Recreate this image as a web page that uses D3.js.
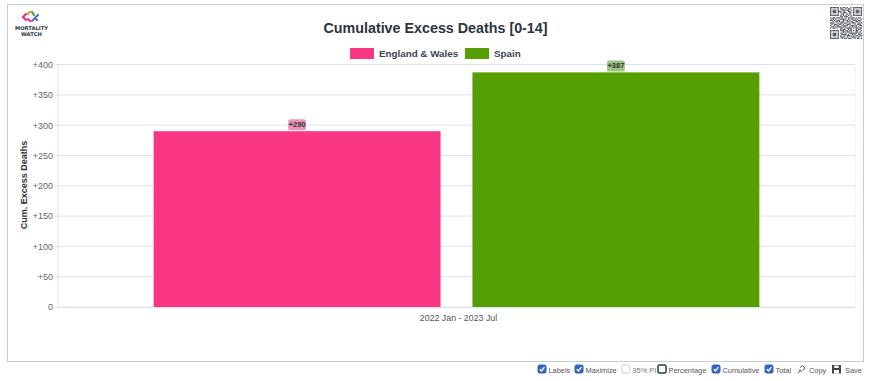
<!DOCTYPE html>
<html>
<head>
<meta charset="utf-8">
<script src="https://cdn.jsdelivr.net/npm/d3@7"></script>
<style>
  html, body { margin: 0; padding: 0; background: #fff; }
  svg { display: block; font-family: "Liberation Sans", Arial, sans-serif; }
</style>
</head>
<body>
<svg id="chart"></svg>
<script>
const categories = ["2022 Jan - 2023 Jul"];
const seriesNames = ["England & Wales", "Spain"];
const seriesValues = [290, 387];
const seriesColors = ["#fb3784", "#559f03"];
const labelColors = ["#ec94bb", "#9cc483"];
const yTicks = [0, 50, 100, 150, 200, 250, 300, 350, 400];
const controlLabels = ["Labels", "Maximize", "95% PI", "Percentage", "Cumulative", "Total"];
const controlChecked = [true, true, false, false, true, true];

const qrRows = [
  "1111111010110100101111111",
  "1000001011001011001000001",
  "1011101001110110101011101",
  "1011101110010011001011101",
  "1011101010111001101011101",
  "1000001001100101001000001",
  "1111111010101010101111111",
  "0000000011011100100000000",
  "1011011101001011011010110",
  "0110100011110010110101001",
  "1101011100101101001110110",
  "0010110101100110110011010",
  "1110001011011001011100101",
  "0101110110100111000101110",
  "1001011001011100111010011",
  "0110101110110001010110100",
  "1011010011001111101011011",
  "0000000010110010100010110",
  "1111111011101101101011001",
  "1000001000110110100011010",
  "1011101011001001111110101",
  "1011101001111010010100110",
  "1011101010010111101011011",
  "1000001011100100011100100",
  "1111111001011011100101101"
];

const width = 870;
const height = 381;
const svg = d3.select("#chart").attr("width", width).attr("height", height);

// Outer card
svg.append("rect")
  .attr("x", 7.5).attr("y", 4.5)
  .attr("width", 856).attr("height", 357)
  .attr("fill", "#fff")
  .attr("stroke", "#c3d0d9");

const margin = { top: 64.5, right: 15, bottom: 74, left: 58 };
const chartWidth = width - margin.left - margin.right;
const chartHeight = height - margin.top - margin.bottom;

const x0 = d3.scaleBand()
  .domain(categories)
  .range([0, chartWidth])
  .paddingInner(0.2)
  .paddingOuter(0.1);

const x1 = d3.scaleBand()
  .domain(seriesNames)
  .range([0, x0.bandwidth()])
  .paddingInner(0.1)
  .paddingOuter(0.05);

const y = d3.scaleLinear().domain([0, 400]).range([chartHeight, 0]);

const chart = svg.append("g")
  .attr("transform", `translate(${margin.left},${margin.top})`);

const fmt = d => (d > 0 ? "+" + d : "" + d);

// Grid
chart.append("g")
  .selectAll("line")
  .data(yTicks)
  .enter()
  .append("line")
  .attr("x1", 0)
  .attr("x2", chartWidth)
  .attr("y1", d => y(d))
  .attr("y2", d => y(d))
  .attr("stroke", "#dde3ee");

chart.append("line")
  .attr("x1", 0).attr("x2", 0)
  .attr("y1", 0).attr("y2", chartHeight)
  .attr("stroke", "#dde3ee");

chart.append("line")
  .attr("x1", chartWidth).attr("x2", chartWidth)
  .attr("y1", 0).attr("y2", chartHeight)
  .attr("stroke", "#eceff5");

// Y axis
const yAxis = chart.append("g")
  .call(d3.axisLeft(y).tickValues(yTicks).tickFormat(fmt).tickSize(3).tickPadding(2));
yAxis.select(".domain").remove();
yAxis.selectAll("line").attr("stroke", "#dde3ee");
yAxis.selectAll("text")
  .style("fill", "#666")
  .style("font-size", "9px");

// X axis
const xAxis = chart.append("g")
  .attr("transform", `translate(0,${chartHeight})`)
  .call(d3.axisBottom(x0).tickSize(0).tickPadding(8));
xAxis.select(".domain").attr("stroke", "#dde3ee");
xAxis.selectAll("text")
  .attr("dx", 2)
  .style("fill", "#555")
  .style("font-size", "8.8px");

// Bars
const group = chart.append("g")
  .attr("transform", `translate(${x0(categories[0])},0)`);

group.selectAll(".bar")
  .data(seriesValues)
  .enter()
  .append("rect")
  .attr("class", "bar")
  .attr("x", (d, i) => x1(seriesNames[i]))
  .attr("y", d => y(d))
  .attr("width", x1.bandwidth())
  .attr("height", d => chartHeight - y(d))
  .attr("fill", (d, i) => seriesColors[i]);

// Value labels
const tags = group.selectAll(".tag")
  .data(seriesValues)
  .enter()
  .append("g")
  .attr("class", "tag")
  .attr("transform", (d, i) =>
    `translate(${x1(seriesNames[i]) + x1.bandwidth() / 2},${y(d) - 6.5})`);

tags.append("rect")
  .attr("x", -9).attr("y", -5.5)
  .attr("width", 18).attr("height", 11)
  .attr("rx", 2.5)
  .attr("fill", (d, i) => labelColors[i]);

tags.append("text")
  .attr("text-anchor", "middle")
  .attr("dy", "0.34em")
  .style("font-size", "7.5px")
  .style("font-weight", "bold")
  .style("fill", "#333")
  .text(fmt);

// Title
svg.append("text")
  .attr("x", 435.5)
  .attr("y", 33)
  .attr("text-anchor", "middle")
  .style("font-size", "14.3px")
  .style("font-weight", "bold")
  .style("fill", "#2b3440")
  .text("Cumulative Excess Deaths [0-14]");

// Legend
const legendX = [350, 465];
const legend = svg.append("g")
  .selectAll("g")
  .data(seriesNames)
  .enter()
  .append("g")
  .attr("transform", (d, i) => `translate(${legendX[i]},48)`);

legend.append("rect")
  .attr("width", 24).attr("height", 11)
  .attr("fill", (d, i) => seriesColors[i]);

legend.append("text")
  .attr("x", 29)
  .attr("y", 9)
  .style("font-size", "9.8px")
  .style("font-weight", "bold")
  .style("fill", "#3a4452")
  .text(d => d);

// Y axis label
svg.append("text")
  .attr("transform", "rotate(-90)")
  .attr("x", -185)
  .attr("y", 27)
  .attr("text-anchor", "middle")
  .style("font-size", "9px")
  .style("font-weight", "bold")
  .style("fill", "#333")
  .text("Cum. Excess Deaths");

// Logo
const logo = svg.append("g").attr("transform", "translate(31,17)");
const logoStrokes = [
  ["#e8308a", "M-5 -3L-8 0L-5 3"],
  ["#f39a1e", "M-3 -3L-1 -5"],
  ["#3fae49", "M1 -5L3 -2"],
  ["#e8308a", "M-3 2L-1 4"],
  ["#5c6bd6", "M1 4L4 1L7 -2M4 1L6 3"]
];
logo.selectAll("path")
  .data(logoStrokes)
  .enter()
  .append("path")
  .attr("d", d => d[1])
  .attr("fill", "none")
  .attr("stroke", d => d[0])
  .attr("stroke-width", 2.2)
  .attr("stroke-linecap", "round");

svg.append("text")
  .attr("x", 31.5).attr("y", 29.5)
  .attr("text-anchor", "middle")
  .style("font-family", "'DejaVu Sans'")
  .style("font-size", "5.2px")
  .style("font-weight", "bold")
  .style("fill", "#2b3440")
  .text("MORTALITY");
svg.append("text")
  .attr("x", 31.5).attr("y", 35.5)
  .attr("text-anchor", "middle")
  .style("font-family", "'DejaVu Sans'")
  .style("font-size", "5.2px")
  .style("font-weight", "bold")
  .style("fill", "#2b3440")
  .text("WATCH");

// QR code, soft like the screenshot
svg.append("defs").append("filter")
  .attr("id", "soft")
  .append("feGaussianBlur")
  .attr("stdDeviation", 0.4);

const qrSize = 32 / qrRows.length;
const qr = svg.append("g")
  .attr("transform", "translate(830,7)")
  .attr("filter", "url(#soft)");
qrRows.forEach((row, r) => {
  row.split("").forEach((c, k) => {
    if (c === "1") {
      qr.append("rect")
        .attr("x", k * qrSize).attr("y", r * qrSize)
        .attr("width", qrSize).attr("height", qrSize)
        .attr("fill", "#4a4f57");
    }
  });
});

// Controls under the card
const controlX = [538, 575, 622, 658, 712, 765];
const controls = svg.append("g")
  .selectAll("g")
  .data(controlLabels)
  .enter()
  .append("g")
  .attr("transform", (d, i) => `translate(${controlX[i]},365)`);

controls.append("rect")
  .attr("width", 8).attr("height", 8)
  .attr("rx", 1.5)
  .attr("fill", (d, i) => controlChecked[i] ? "#2f63c4" : "#fff")
  .attr("stroke", (d, i) => controlChecked[i] ? "#2f63c4" : (i === 3 ? "#2a3a55" : "#ccc"))
  .attr("stroke-width", (d, i) => i === 3 ? 1.5 : 1);

controls.filter((d, i) => controlChecked[i])
  .append("path")
  .attr("d", "M1.8 4.2L3.5 6L6.4 2.2")
  .attr("fill", "none")
  .attr("stroke", "#fff")
  .attr("stroke-width", 1.4);

controls.append("text")
  .attr("x", 10.5)
  .attr("y", 8)
  .style("font-size", "7.4px")
  .style("fill", (d, i) => i === 2 ? "#777" : "#555")
  .text(d => d);

// Copy and Save
const copyIcon = svg.append("g").attr("transform", "translate(797,365)");
copyIcon.append("path")
  .attr("d", "M1 8L4 4.5M3 2.5L5.5 0.5L8 3L6 5.5M2 4.5L4.5 7")
  .attr("fill", "none")
  .attr("stroke", "#555");
svg.append("text")
  .attr("x", 809).attr("y", 373)
  .style("font-size", "7.4px").style("fill", "#555")
  .text("Copy");

const saveIcon = svg.append("g").attr("transform", "translate(832,365)");
saveIcon.append("rect")
  .attr("width", 9).attr("height", 8.5)
  .attr("fill", "#444");
saveIcon.append("rect")
  .attr("x", 2.2).attr("y", 0.6).attr("width", 4.5).attr("height", 2.4)
  .attr("fill", "#fff");
saveIcon.append("rect")
  .attr("x", 2).attr("y", 5).attr("width", 5).attr("height", 3.5)
  .attr("fill", "#fff");
svg.append("text")
  .attr("x", 845).attr("y", 373)
  .style("font-size", "7.4px").style("fill", "#555")
  .text("Save");
</script>
</body>
</html>
